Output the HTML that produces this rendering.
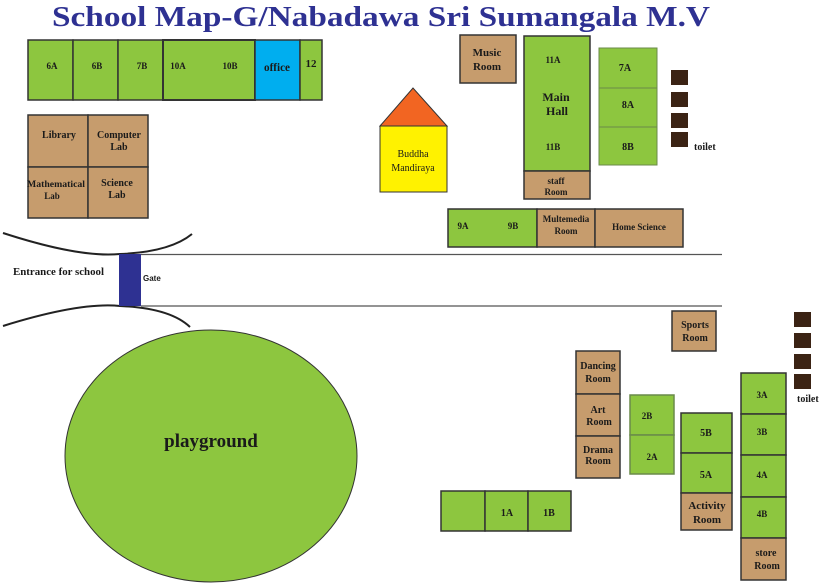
<!DOCTYPE html>
<html><head><meta charset="utf-8"><style>
html,body{margin:0;padding:0;background:#fff;}
svg{display:block;}
text{font-family:"Liberation Serif",serif;font-weight:bold;fill:#1a1a1a;}
.g{fill:#8dc63f;stroke:#333;stroke-width:1.5;}
.t{fill:#c69c6d;stroke:#333;stroke-width:1.5;}
.d{fill:#3b2314;}
</style></head><body>
<svg width="827" height="584" viewBox="0 0 827 584" xmlns="http://www.w3.org/2000/svg">
<text x="52" y="26" font-size="28" textLength="658" lengthAdjust="spacingAndGlyphs" style="fill:#2e3192">School Map-G/Nabadawa Sri Sumangala M.V</text>

<!-- top row -->
<rect class="g" x="28" y="40" width="45" height="60"/>
<rect class="g" x="73" y="40" width="45" height="60"/>
<rect class="g" x="118" y="40" width="45" height="60"/>
<rect class="g" x="163" y="40" width="92" height="60" style="stroke-width:2"/>
<rect x="255" y="40" width="45" height="60" fill="#00aeef" stroke="#333" stroke-width="1.5"/>
<rect class="g" x="300" y="40" width="22" height="60"/>
<g font-size="9" text-anchor="middle">
<text x="52" y="69">6A</text><text x="97" y="69">6B</text><text x="142" y="69">7B</text>
<text x="178" y="69">10A</text><text x="230" y="69">10B</text>
<text x="311" y="67" font-size="11">12</text>
</g>
<text x="277" y="71" font-size="12" text-anchor="middle" textLength="26" lengthAdjust="spacingAndGlyphs">office</text>

<!-- labs -->
<rect class="t" x="28" y="115" width="60" height="52"/>
<rect class="t" x="88" y="115" width="60" height="52"/>
<rect class="t" x="28" y="167" width="60" height="51"/>
<rect class="t" x="88" y="167" width="60" height="51"/>
<g font-size="10" text-anchor="middle">
<text x="59" y="138">Library</text>
<text x="119" y="138">Computer</text><text x="119" y="150">Lab</text>
<text x="56" y="187" font-size="9" textLength="58" lengthAdjust="spacingAndGlyphs">Mathematical</text><text x="52" y="199" font-size="9">Lab</text>
<text x="117" y="186">Science</text><text x="117" y="198">Lab</text>
</g>

<!-- Buddha -->
<polygon points="380,126 413,88 447,126" fill="#f26522" stroke="#333" stroke-width="1"/>
<rect x="380" y="126" width="67" height="66" fill="#fff200" stroke="#333" stroke-width="1"/>
<text x="413" y="157" font-size="10" font-weight="normal" text-anchor="middle" style="font-weight:normal">Buddha</text>
<text x="413" y="171" font-size="10" text-anchor="middle" style="font-weight:normal">Mandiraya</text>

<!-- top right -->
<rect class="t" x="460" y="35" width="56" height="48"/>
<text x="487" y="56" font-size="11" text-anchor="middle">Music</text><text x="487" y="70" font-size="11" text-anchor="middle">Room</text>
<rect class="g" x="524" y="36" width="66" height="135"/>
<rect class="t" x="524" y="171" width="66" height="28"/>
<g text-anchor="middle">
<text x="553" y="63" font-size="9">11A</text>
<text x="556" y="101" font-size="12">Main</text><text x="557" y="115" font-size="12">Hall</text>
<text x="553" y="150" font-size="9">11B</text>
<text x="556" y="184" font-size="9">staff</text><text x="556" y="195" font-size="9">Room</text>
</g>
<rect class="g" x="599" y="48" width="58" height="40" style="stroke:#6a8a4a;stroke-width:1"/>
<rect class="g" x="599" y="88" width="58" height="39" style="stroke:#6a8a4a;stroke-width:1"/>
<rect class="g" x="599" y="127" width="58" height="38" style="stroke:#6a8a4a;stroke-width:1"/>
<g text-anchor="middle" font-size="10">
<text x="625" y="71">7A</text><text x="628" y="108">8A</text><text x="628" y="150">8B</text>
</g>
<rect class="d" x="671" y="70" width="17" height="15"/>
<rect class="d" x="671" y="92" width="17" height="15"/>
<rect class="d" x="671" y="113" width="17" height="15"/>
<rect class="d" x="671" y="132" width="17" height="15"/>
<text x="694" y="150" font-size="10">toilet</text>

<rect class="g" x="448" y="209" width="89" height="38"/>
<rect class="t" x="537" y="209" width="58" height="38"/>
<rect class="t" x="595" y="209" width="88" height="38"/>
<g font-size="9" text-anchor="middle">
<text x="463" y="229">9A</text><text x="513" y="229">9B</text>
<text x="566" y="222">Multemedia</text><text x="566" y="234">Room</text>
<text x="639" y="230">Home Science</text>
</g>

<!-- road -->
<path d="M3,233 Q80,258 120,254 Q170,252 192,234" fill="none" stroke="#222" stroke-width="2"/>
<path d="M3,326 Q80,302 120,306 Q170,308 190,327" fill="none" stroke="#222" stroke-width="2"/>
<line x1="141" y1="254.5" x2="722" y2="254.5" stroke="#555" stroke-width="1.3"/>
<line x1="141" y1="306" x2="722" y2="306" stroke="#555" stroke-width="1.3"/>
<rect x="119" y="254" width="22" height="52" fill="#2e3192"/>
<text x="13" y="275" font-size="11" textLength="91" lengthAdjust="spacingAndGlyphs">Entrance for school</text>
<text x="143" y="281" font-size="8" style="font-family:'Liberation Sans',sans-serif">Gate</text>

<!-- playground -->
<ellipse cx="211" cy="456" rx="146" ry="126" fill="#8dc63f" stroke="#333" stroke-width="1"/>
<text x="211" y="447" font-size="19" text-anchor="middle">playground</text>

<!-- bottom -->
<rect class="g" x="441" y="491" width="44" height="40"/>
<rect class="g" x="485" y="491" width="43" height="40"/>
<rect class="g" x="528" y="491" width="43" height="40"/>
<g font-size="10" text-anchor="middle"><text x="507" y="516">1A</text><text x="549" y="516">1B</text></g>

<rect class="t" x="576" y="351" width="44" height="43"/>
<rect class="t" x="576" y="394" width="44" height="42"/>
<rect class="t" x="576" y="436" width="44" height="42"/>
<g font-size="10" text-anchor="middle">
<text x="598" y="369">Dancing</text><text x="598" y="382">Room</text>
<text x="598" y="413">Art</text><text x="599" y="425">Room</text>
<text x="598" y="453">Drama</text><text x="598" y="464">Room</text>
</g>
<rect class="g" x="630" y="395" width="44" height="40" style="stroke:#6a8a4a"/>
<rect class="g" x="630" y="435" width="44" height="39" style="stroke:#6a8a4a"/>
<g font-size="9" text-anchor="middle"><text x="647" y="419">2B</text><text x="652" y="460">2A</text></g>

<rect class="g" x="681" y="413" width="51" height="40"/>
<rect class="g" x="681" y="453" width="51" height="40"/>
<rect class="t" x="681" y="493" width="51" height="37"/>
<g font-size="10" text-anchor="middle">
<text x="706" y="436">5B</text><text x="706" y="478">5A</text>
<text x="707" y="509" font-size="11">Activity</text><text x="707" y="523" font-size="11">Room</text>
</g>

<rect class="t" x="672" y="311" width="44" height="40"/>
<text x="695" y="328" font-size="10" text-anchor="middle">Sports</text><text x="695" y="341" font-size="10" text-anchor="middle">Room</text>

<rect class="g" x="741" y="373" width="45" height="41"/>
<rect class="g" x="741" y="414" width="45" height="41"/>
<rect class="g" x="741" y="455" width="45" height="42"/>
<rect class="g" x="741" y="497" width="45" height="41"/>
<rect class="t" x="741" y="538" width="45" height="42"/>
<g font-size="9" text-anchor="middle">
<text x="762" y="398">3A</text><text x="762" y="435">3B</text><text x="762" y="478">4A</text><text x="762" y="517">4B</text>
<text x="766" y="556" font-size="10">store</text><text x="767" y="569" font-size="10">Room</text>
</g>
<rect class="d" x="794" y="312" width="17" height="15"/>
<rect class="d" x="794" y="333" width="17" height="15"/>
<rect class="d" x="794" y="354" width="17" height="15"/>
<rect class="d" x="794" y="374" width="17" height="15"/>
<text x="797" y="402" font-size="10">toilet</text>
</svg>
</body></html>
